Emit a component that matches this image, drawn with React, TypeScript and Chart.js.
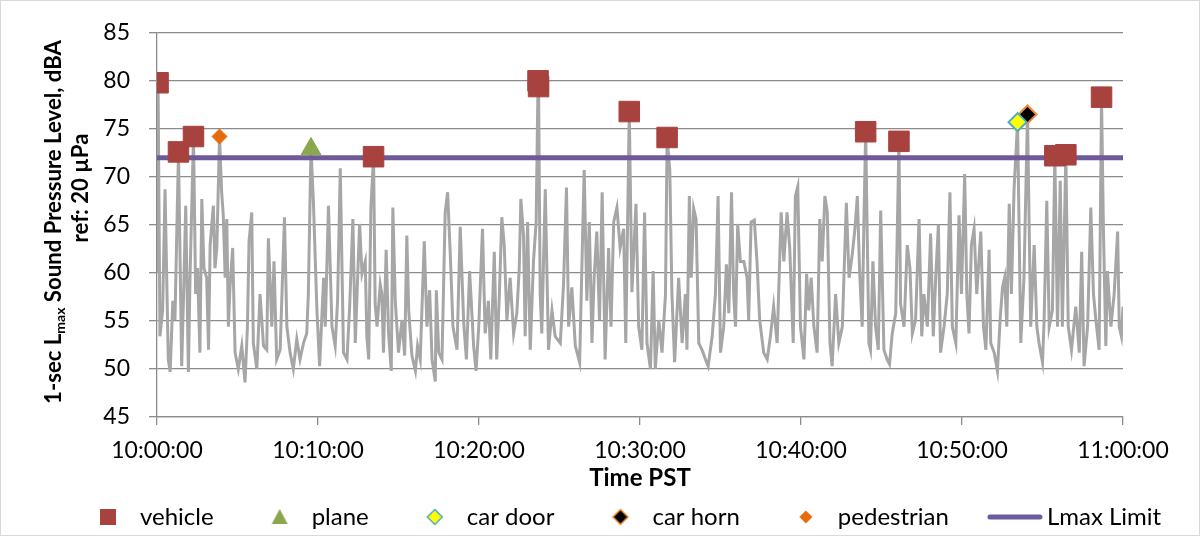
import { useEffect, useRef } from 'react';
import { Chart, registerables } from 'chart.js';

Chart.register(...registerables);

// ---- Data (time in seconds after 10:00:00, level in dBA) ----
const times = [
  0, 4, 11, 21, 30, 42, 49, 59, 67, 80, 92, 101, 107, 117, 123, 136, 144, 151, 160, 167, 175, 185, 192, 198, 210, 216, 223, 233, 241, 247, 254, 260, 266, 272, 282, 291, 303, 316, 328, 337, 343, 353, 359, 372, 384, 397, 409, 415, 428, 436, 446, 459, 475, 484, 496, 508, 521, 533, 546, 558, 564, 571, 574, 583,
  596, 606, 621, 627, 639, 652, 664, 673, 683, 689, 695, 708, 718, 730, 739, 755, 764, 776, 782, 789, 797, 807, 813, 820, 832, 838, 844, 854, 863, 873, 879, 888, 900, 913, 923, 931, 938, 950, 963, 971, 981, 996, 1006, 1016, 1025, 1037, 1041, 1050, 1062, 1074, 1083, 1093, 1103, 1118, 1130, 1143, 1153, 1165, 1180, 1189, 1199,
  1213, 1223, 1235, 1244, 1257, 1266, 1276, 1285, 1294, 1304, 1316, 1329, 1341, 1350, 1356, 1366, 1372, 1381, 1391, 1403, 1413, 1420, 1422, 1428, 1434, 1447, 1459, 1472, 1484, 1503, 1515, 1526, 1534, 1546, 1559, 1575, 1592, 1602, 1611, 1621, 1629, 1639, 1649, 1659, 1670, 1683, 1692, 1702, 1714, 1726, 1739, 1747, 1760, 1770,
  1785, 1795, 1807, 1817, 1826, 1839, 1849, 1857, 1870, 1882, 1895, 1901, 1911, 1919, 1929, 1944, 1957, 1969, 1975, 1984, 1991, 2000, 2009, 2019, 2031, 2044, 2054, 2069, 2081, 2091, 2100, 2112, 2122, 2131, 2141, 2149, 2156, 2164, 2174, 2187, 2199, 2205, 2214, 2226, 2236, 2246, 2261, 2274, 2286, 2298, 2311, 2326, 2336, 2348, 2358, 2371, 2379, 2388,
  2398, 2411, 2421, 2429, 2438, 2448, 2460, 2470, 2479, 2489, 2498, 2508, 2516, 2529, 2541, 2554, 2569, 2579, 2591, 2601, 2610, 2618, 2628, 2634, 2641, 2653, 2659, 2668, 2678, 2688, 2697, 2709, 2721, 2730, 2740, 2753, 2759, 2765, 2771, 2784, 2796, 2806, 2815, 2827, 2840, 2850, 2858, 2871, 2883, 2893, 2902, 2912, 2920, 2933, 2945, 2955,
  2964, 2977, 2989, 2998, 3010, 3018, 3026, 3035, 3045, 3055, 3070, 3080, 3089, 3101, 3107, 3120, 3132, 3142, 3151, 3159, 3167, 3176, 3184, 3194, 3207, 3219, 3231, 3244, 3256, 3269, 3279, 3287, 3300, 3306, 3316, 3325, 3337, 3346, 3356, 3366, 3374, 3387, 3396, 3408, 3424, 3437, 3446, 3455, 3468, 3480, 3490, 3499, 3511, 3520, 3527, 3536, 3542, 3555, 3567, 3580, 3586, 3594, 3600,
];
const levels = [
  60.0, 79.8, 53.4, 56.1, 68.7, 51.0, 49.7, 57.1, 55.1, 72.6, 50.3, 59.9, 67.0, 49.7, 59.5, 74.2, 57.8, 60.5, 51.7, 67.7, 60.5, 59.5, 52.0, 62.9, 67.0, 60.5, 62.6, 74.2, 68.4, 66.0, 59.5, 65.6, 54.4, 58.5, 62.6, 51.7, 50.0, 52.4, 48.6, 54.4, 63.3, 66.3, 52.7, 50.0, 57.8, 52.4, 52.0, 63.6, 54.4, 61.2, 51.0, 52.0, 65.8, 54.4, 51.7, 50.0, 53.1, 51.0, 52.7, 53.7, 57.8, 68.7, 72.9, 67.3,
  56.1, 50.3, 59.5, 54.4, 67.0, 54.4, 52.4, 57.1, 70.9, 61.2, 51.7, 51.0, 56.5, 65.6, 52.7, 65.1, 59.9, 61.2, 53.4, 51.0, 66.7, 72.1, 56.8, 54.4, 58.8, 57.8, 51.7, 62.4, 53.7, 49.8, 66.8, 57.1, 51.7, 55.1, 51.4, 63.9, 56.1, 51.4, 49.8, 52.4, 51.0, 63.3, 54.4, 58.2, 51.0, 48.7, 58.2, 51.7, 51.0, 66.3, 68.4, 61.9, 54.4, 52.0, 64.8, 54.8, 51.0, 60.2, 52.4, 49.8, 54.4,
  64.6, 53.7, 57.1, 51.0, 62.2, 51.0, 57.8, 65.8, 62.9, 55.1, 59.5, 53.7, 55.8, 60.5, 67.7, 63.9, 53.4, 65.3, 52.0, 61.2, 65.3, 80.0, 79.4, 57.8, 53.7, 68.7, 52.0, 56.1, 53.4, 52.7, 58.8, 68.9, 54.4, 58.5, 52.4, 50.7, 70.7, 57.1, 65.3, 52.7, 59.5, 64.3, 55.1, 68.4, 51.0, 62.6, 54.4, 65.3, 66.8, 62.6, 64.6, 52.7, 76.8, 58.0,
  67.2, 54.4, 52.0, 66.3, 52.7, 50.0, 60.2, 50.0, 55.1, 51.7, 57.8, 74.1, 70.7, 57.8, 50.7, 59.5, 52.7, 57.8, 52.0, 68.0, 59.5, 66.7, 65.6, 52.7, 52.0, 51.0, 50.3, 53.4, 57.8, 68.0, 51.7, 54.4, 60.9, 55.8, 68.4, 57.8, 54.4, 65.1, 61.2, 61.2, 59.5, 55.1, 65.3, 65.5, 61.2, 55.1, 51.7, 51.0, 53.4, 56.5, 52.7, 66.3, 61.2, 66.3, 62.6, 52.7, 68.0, 69.0,
  54.4, 51.0, 59.9, 56.1, 59.5, 54.4, 51.7, 65.6, 61.2, 68.0, 66.3, 52.7, 50.3, 57.8, 52.7, 54.4, 67.3, 59.5, 61.9, 64.6, 68.0, 60.5, 54.4, 64.6, 74.7, 52.7, 52.0, 61.2, 54.4, 52.0, 66.5, 52.0, 51.0, 50.5, 53.7, 55.8, 64.6, 73.7, 56.8, 54.4, 62.9, 60.5, 53.7, 55.1, 65.6, 53.4, 57.8, 54.4, 64.1, 53.4, 59.5, 65.0, 51.7, 54.4, 57.8, 68.4,
  54.4, 52.7, 66.0, 57.8, 70.3, 57.8, 53.7, 62.9, 64.6, 57.8, 64.3, 54.4, 52.0, 62.4, 52.7, 51.7, 49.8, 55.1, 58.5, 59.5, 54.4, 67.2, 57.8, 68.7, 75.7, 52.7, 59.5, 76.5, 54.4, 62.9, 54.4, 52.7, 50.7, 55.1, 67.5, 54.4, 56.1, 72.2, 54.4, 69.6, 54.4, 72.3, 54.4, 52.0, 56.5, 51.7, 62.2, 50.3, 54.4, 66.8, 57.8, 55.1, 52.0, 78.3, 64.6, 52.4, 60.2, 54.4, 57.8, 64.3, 54.4, 53.4, 56.5,
];

const vehicleTimes = [4, 80, 136, 807, 1420, 1422, 1760, 1901, 2641, 2765, 3346, 3387, 3520];
const vehicleLevels = [79.8, 72.6, 74.2, 72.1, 80.0, 79.4, 76.8, 74.1, 74.7, 73.7, 72.2, 72.3, 78.3];
const planeTimes = [574];
const planeLevels = [72.9];
const carDoorTimes = [3207];
const carDoorLevels = [75.7];
const carHornTimes = [3244];
const carHornLevels = [76.5];
const pedestrianTimes = [233];
const pedestrianLevels = [74.2];
const lmaxLimit = 72;

const xTickLabels = ['10:00:00', '10:10:00', '10:20:00', '10:30:00', '10:40:00', '10:50:00', '11:00:00'];
const xTitle = 'Time PST';
const yTitleParts = [
  { text: '1-sec L', sub: false },
  { text: 'max', sub: true },
  { text: ' Sound Pressure Level, dBA', sub: false },
];
const yTitleLine2 = 'ref: 20 µPa';

const COLORS = {
  line: '#A6A6A6',
  vehicle: '#A8423F',
  plane: '#8AA74E',
  carDoorFill: '#FFFF00',
  carDoorBorder: '#4BACC6',
  carHornFill: '#000000',
  carHornBorder: '#F08A30',
  pedestrian: '#E46C0A',
  limit: '#6E5A9A',
  grid: '#8C8C8C',
};

const FONT = 'Lato';
// legend geometry: marker glyphs are drawn offset inside a wide canvas
const LEGEND_BOX = 86;
const MARK_W = 130;
const MARK_CX = MARK_W / 2 + 23;

function pts(t: number[], v: number[]) {
  return t.map((x, i) => ({ x, y: v[i] }));
}

function markerCanvas(kind: string): HTMLCanvasElement {
  const c = document.createElement('canvas');
  c.width = MARK_W;
  c.height = 20;
  const g = c.getContext('2d')!;
  const cx = MARK_CX, cy = 10;
  if (kind === 'vehicle') {
    g.fillStyle = COLORS.vehicle;
    g.fillRect(cx - 8, cy - 8, 16, 16);
  } else if (kind === 'plane') {
    g.fillStyle = COLORS.plane;
    g.beginPath(); g.moveTo(cx, cy - 8); g.lineTo(cx + 8, cy + 7); g.lineTo(cx - 8, cy + 7); g.closePath(); g.fill();
  } else if (kind === 'door' || kind === 'horn' || kind === 'ped') {
    const r = kind === 'ped' ? 6.5 : 7.5;
    g.beginPath(); g.moveTo(cx, cy - r); g.lineTo(cx + r, cy); g.lineTo(cx, cy + r); g.lineTo(cx - r, cy); g.closePath();
    if (kind === 'door') { g.fillStyle = COLORS.carDoorFill; g.fill(); g.strokeStyle = COLORS.carDoorBorder; g.lineWidth = 1.5; g.stroke(); }
    else if (kind === 'horn') { g.fillStyle = COLORS.carHornFill; g.fill(); g.strokeStyle = COLORS.carHornBorder; g.lineWidth = 1.5; g.stroke(); }
    else { g.fillStyle = COLORS.pedestrian; g.fill(); }
  } else {
    g.strokeStyle = COLORS.limit; g.lineWidth = 5; g.lineCap = 'round';
    g.beginPath(); g.moveTo(cx - 25, cy); g.lineTo(cx + 25, cy); g.stroke();
  }
  return c;
}

const decorPlugin = {
  id: 'decor',
  afterDraw(chart: any) {
    const ctx: CanvasRenderingContext2D = chart.ctx;
    const area = chart.chartArea;
    ctx.save();
    ctx.strokeStyle = '#D9D9D9';
    ctx.lineWidth = 1;
    ctx.strokeRect(0.5, 0.5, 1199, 535);

    ctx.fillStyle = '#000';
    ctx.textBaseline = 'middle';
    ctx.textAlign = 'center';
    ctx.font = `bold 24px ${FONT}`;
    ctx.fillText(xTitle, (area.left + area.right) / 2, 478);

    // y title (rotated, with subscript)
    const base = 20;
    const widthAt = (s: number) => yTitleParts.reduce((acc, p) => {
      ctx.font = `bold ${p.sub ? Math.round(s * 0.65) : s}px ${FONT}`;
      return acc + ctx.measureText(p.text).width;
    }, 0);
    const size = Math.min(24, (base * 365) / widthAt(base));
    const total = widthAt(size);
    ctx.save();
    ctx.translate(54, 222);
    ctx.rotate(-Math.PI / 2);
    ctx.textAlign = 'left';
    let x = -total / 2;
    for (const p of yTitleParts) {
      const s = p.sub ? Math.round(size * 0.65) : size;
      ctx.font = `bold ${s}px ${FONT}`;
      ctx.fillText(p.text, x, p.sub ? size * 0.3 : 0);
      x += ctx.measureText(p.text).width;
    }
    ctx.restore();
    ctx.save();
    ctx.translate(81, 188);
    ctx.rotate(-Math.PI / 2);
    ctx.textAlign = 'center';
    ctx.font = `bold ${size}px ${FONT}`;
    ctx.fillText(yTitleLine2, 0, 0);
    ctx.restore();
    ctx.restore();
  },
};

export default function App() {
  const ref = useRef<HTMLCanvasElement>(null);
  useEffect(() => {
    document.body.style.margin = '0';
    const legendMarkers: Record<string, HTMLCanvasElement> = {
      vehicle: markerCanvas('vehicle'),
      plane: markerCanvas('plane'),
      door: markerCanvas('door'),
      horn: markerCanvas('horn'),
      ped: markerCanvas('ped'),
      line: markerCanvas('line'),
    };
    const legendOrder = [
      { ds: 2, key: 'vehicle' },
      { ds: 3, key: 'plane' },
      { ds: 4, key: 'door' },
      { ds: 5, key: 'horn' },
      { ds: 6, key: 'ped' },
      { ds: 1, key: 'line' },
    ];
    const tickFont = { family: FONT, size: 23 };
    const chart = new Chart(ref.current!, {
      type: 'line',
      data: {
        datasets: [
          {
            label: 'Lmax',
            data: pts(times, levels),
            borderColor: COLORS.line,
            borderWidth: 3,
            pointRadius: 0,
            tension: 0,
            order: 3,
          },
          {
            label: 'Lmax Limit',
            data: [{ x: 0, y: lmaxLimit }, { x: 3600, y: lmaxLimit }],
            borderColor: COLORS.limit,
            borderWidth: 5,
            pointRadius: 0,
            order: 2,
          },
          {
            label: 'vehicle',
            data: pts(vehicleTimes, vehicleLevels),
            showLine: false,
            pointStyle: 'rect',
            pointRadius: 14.5,
            backgroundColor: COLORS.vehicle,
            borderColor: COLORS.vehicle,
            borderWidth: 1,
            order: 1,
          },
          {
            label: 'plane',
            data: pts(planeTimes, planeLevels),
            showLine: false,
            pointStyle: 'triangle',
            pointRadius: 11.5,
            backgroundColor: COLORS.plane,
            borderColor: COLORS.plane,
            borderWidth: 1,
            order: 1,
          },
          {
            label: 'car door',
            data: pts(carDoorTimes, carDoorLevels),
            showLine: false,
            pointStyle: 'rectRot',
            pointRadius: 9,
            backgroundColor: COLORS.carDoorFill,
            borderColor: COLORS.carDoorBorder,
            borderWidth: 2,
            order: 0,
          },
          {
            label: 'car horn',
            data: pts(carHornTimes, carHornLevels),
            showLine: false,
            pointStyle: 'rectRot',
            pointRadius: 9,
            backgroundColor: COLORS.carHornFill,
            borderColor: COLORS.carHornBorder,
            borderWidth: 2,
            order: 0,
          },
          {
            label: 'pedestrian',
            data: pts(pedestrianTimes, pedestrianLevels),
            showLine: false,
            pointStyle: 'rectRot',
            pointRadius: 7.5,
            backgroundColor: COLORS.pedestrian,
            borderColor: COLORS.pedestrian,
            borderWidth: 1,
            order: 0,
          },
        ],
      },
      options: {
        animation: false,
        responsive: false,
        events: [],
        layout: { padding: { left: 42, top: 27, right: 0, bottom: -2 } },
        plugins: {
          tooltip: { enabled: false },
          legend: {
            position: 'bottom',
            align: 'start',
            labels: {
              usePointStyle: true,
              pointStyleWidth: LEGEND_BOX,
              padding: 0,
              color: '#000',
              font: { family: FONT, size: 24 },
              generateLabels: (ch: any) =>
                legendOrder.map((o) => ({
                  text: ch.data.datasets[o.ds].label,
                  pointStyle: legendMarkers[o.key],
                  fillStyle: 'transparent',
                  strokeStyle: 'transparent',
                  lineWidth: 0,
                  hidden: false,
                  datasetIndex: o.ds,
                  fontColor: '#000',
                })),
            },
          },
        },
        scales: {
          x: {
            type: 'linear',
            min: 0,
            max: 3600,
            ticks: {
              stepSize: 600,
              autoSkip: false,
              maxRotation: 0,
              padding: 12,
              color: '#000',
              font: tickFont,
              callback: (v: any) => xTickLabels[Math.round(Number(v) / 600)] ?? '',
            },
            grid: { drawOnChartArea: false, tickLength: 8, color: COLORS.grid, lineWidth: 1.3 },
            border: { color: COLORS.grid, width: 1.3 },
            afterFit: (s: any) => { s.height = 88; },
          },
          y: {
            min: 45,
            max: 85,
            ticks: { stepSize: 5, padding: 19, color: '#000', font: tickFont },
            grid: { color: COLORS.grid, tickLength: 8, lineWidth: 1.3 },
            border: { color: COLORS.grid, width: 1.3 },
            afterFit: (s: any) => { s.width = 115; },
          },
          yRight: {
            position: 'right',
            display: true,
            grid: { display: false },
            ticks: { display: false },
            border: { display: false },
            afterFit: (s: any) => { s.width = 78; },
          },
        },
      },
      plugins: [decorPlugin],
    } as any);
    return () => chart.destroy();
  }, []);
  return (
    <div style={{ width: 1201, height: 537 }}>
      <canvas ref={ref} width={1201} height={537} style={{ display: 'block' }} />
    </div>
  );
}
